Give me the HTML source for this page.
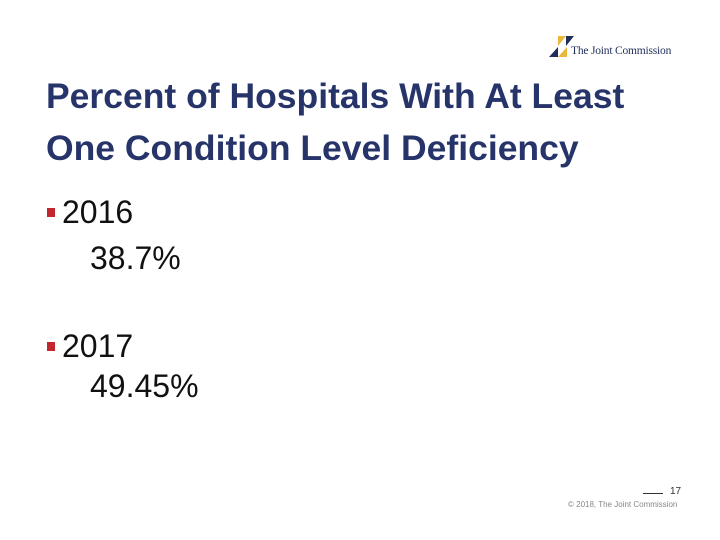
<!DOCTYPE html>
<html><head><meta charset="utf-8"><style>
body{margin:0;width:720px;height:540px;background:#fff;position:relative;overflow:hidden;font-family:"Liberation Sans",sans-serif}
.t{position:absolute;left:46px;top:70px;color:#26346a;font-size:35.5px;font-weight:bold;line-height:52px}
.b{position:absolute;left:62px;font-size:32px;color:#111}
.sq{position:absolute;left:47px;width:8px;height:9px;background:#c0282d}
.v{position:absolute;left:90px;font-size:32px;color:#111}
</style></head><body>
<div style="position:absolute;left:549px;top:36px;width:130px;height:22px">
<svg width="26" height="22" style="position:absolute;left:0;top:0">
<polygon points="9,0 17,0 9,10" fill="#e8b93a"/><polygon points="17,0 25,0 17,10" fill="#1f2d5a"/>
<polygon points="0,21 9,11 9,21" fill="#1f2d5a"/><polygon points="9,21 18,11 18,21" fill="#e8b93a"/></svg>
<span style="position:absolute;left:22px;top:9px;font-family:'Liberation Serif',serif;font-size:11.5px;color:#1f2d5a;white-space:nowrap;letter-spacing:-0.2px">The Joint Commission</span>
</div>
<div class="t">Percent of Hospitals With At Least<br>One Condition Level Deficiency</div>
<div class="sq" style="top:208px"></div>
<div class="b" style="top:194px">2016</div>
<div class="v" style="top:240px">38.7%</div>
<div class="sq" style="top:342px"></div>
<div class="b" style="top:328px">2017</div>
<div class="v" style="top:368px">49.45%</div>
<div style="position:absolute;left:643px;top:493px;width:20px;height:1px;background:#333"></div>
<div style="position:absolute;left:670px;top:486px;font-size:10px;color:#333">17</div>
<div style="position:absolute;left:568px;top:500px;font-size:8px;color:#888;white-space:nowrap">© 2018, The Joint Commission</div>
</body></html>
